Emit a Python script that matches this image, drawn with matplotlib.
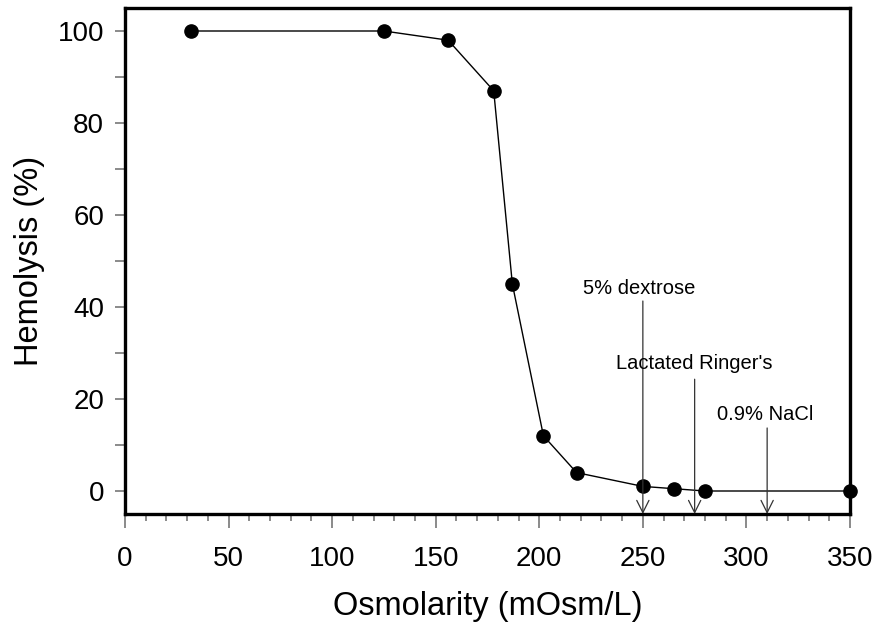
import matplotlib.pyplot as plt
from matplotlib.ticker import MultipleLocator

plt.rcParams['font.family'] = ['Liberation Sans', 'DejaVu Sans']

# osmotic fragility curve
osmolarity = [32, 125, 156, 178, 187, 202, 218, 250, 265, 280, 350]
hemolysis = [100, 100, 98, 87, 45, 12, 4, 1, 0.5, 0, 0]

# reference solutions
solutions = ["5% dextrose", "Lactated Ringer's", "0.9% NaCl"]
solution_osm = [250, 275, 310]

fig = plt.figure(figsize=(8.79, 6.27), dpi=100)
ax = fig.add_axes([125 / 879, 1 - 514 / 627, 725 / 879, 506 / 627])

ax.plot(osmolarity, hemolysis, color='black', lw=1.0, marker='o',
        markersize=9.5, markerfacecolor='black', markeredgecolor='black',
        clip_on=False, zorder=3)

# arrow tails and label spots (data coords)
tail_y = [41.3, 24.3, 13.7]
label_xy = [(248, 44.0), (275, 27.8), (309, 16.7)]
for name, x, ty, (lx, ly) in zip(solutions, solution_osm, tail_y, label_xy):
    ax.annotate('', xy=(x, -5), xytext=(x, ty),
                arrowprops=dict(arrowstyle='->', lw=0.9, color='#333333',
                                mutation_scale=22, shrinkA=0, shrinkB=0))
    ax.text(lx, ly, name, ha='center', va='center', fontsize=14.5)

ax.set_xlim(0, 350)
ax.set_ylim(-5, 105)
ax.xaxis.set_major_locator(MultipleLocator(50))
ax.xaxis.set_minor_locator(MultipleLocator(10))
ax.yaxis.set_major_locator(MultipleLocator(20))
ax.yaxis.set_minor_locator(MultipleLocator(10))

ax.tick_params(axis='both', which='both', direction='out', color='#777777',
               labelsize=20, width=1.2)
ax.tick_params(axis='x', which='major', length=10, pad=13)
ax.tick_params(axis='x', which='minor', length=5)
ax.tick_params(axis='y', which='major', length=7, pad=8)
ax.tick_params(axis='y', which='minor', length=7)

for s in ax.spines.values():
    s.set_linewidth(2.4)

ax.set_xlabel('Osmolarity (mOsm/L)', fontsize=23.5, labelpad=14)
ax.set_ylabel('Hemolysis (%)', fontsize=23.5, labelpad=9)

fig.savefig('out.png', dpi=100)
